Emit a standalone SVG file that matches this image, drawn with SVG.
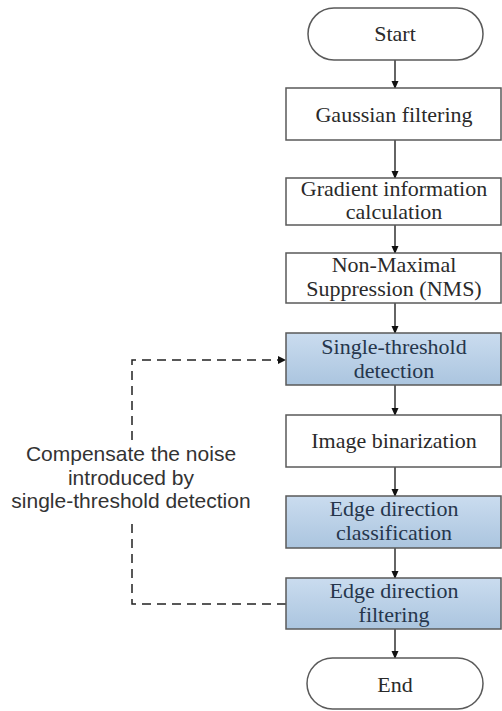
<svg xmlns="http://www.w3.org/2000/svg" width="502" height="711" viewBox="0 0 502 711">
<defs>
<linearGradient id="blue" x1="0" y1="0" x2="0" y2="1">
<stop offset="0" stop-color="#cadcef"/>
<stop offset="1" stop-color="#abc5df"/>
</linearGradient>
<marker id="arr" markerWidth="8" markerHeight="8" refX="7" refY="4" orient="auto" markerUnits="userSpaceOnUse">
<path d="M0,0.5 L8,4 L0,7.5 Z" fill="#111"/>
</marker>
</defs>
<style>
.box{fill:#fff;stroke:#5a5a5a;stroke-width:1.5}
.hl{fill:url(#blue);stroke:#5a5a5a;stroke-width:1.5}
.t{font-family:"Liberation Serif","Times New Roman",serif;font-size:22px;fill:#2a2a2a;text-anchor:middle}
.th{font-family:"Liberation Serif","Times New Roman",serif;font-size:22px;fill:#26364c;text-anchor:middle}
.ann{font-family:"Liberation Sans",Arial,sans-serif;font-size:21px;fill:#333;text-anchor:middle}
.c{stroke:#111;stroke-width:1.3;fill:none}
.d{stroke:#222;stroke-width:1.5;fill:none;stroke-dasharray:9 6}
</style>
<rect width="502" height="711" fill="#fff"/>
<g id="connectors">
<line class="c" x1="395" y1="60" x2="395" y2="88" marker-end="url(#arr)"/>
<line class="c" x1="395" y1="140" x2="395" y2="178" marker-end="url(#arr)"/>
<line class="c" x1="395" y1="225" x2="395" y2="253" marker-end="url(#arr)"/>
<line class="c" x1="395" y1="303" x2="395" y2="333" marker-end="url(#arr)"/>
<line class="c" x1="395" y1="385" x2="395" y2="415" marker-end="url(#arr)"/>
<line class="c" x1="395" y1="467" x2="395" y2="496" marker-end="url(#arr)"/>
<line class="c" x1="395" y1="548" x2="395" y2="578" marker-end="url(#arr)"/>
<line class="c" x1="395" y1="629" x2="395" y2="658" marker-end="url(#arr)"/>
<path class="d" d="M286,604 H132 V524"/>
<path class="d" d="M132,440 V360 H280"/>
<path d="M278,356 L286,360 L278,364 Z" fill="#111"/>
</g>
<g id="start">
<rect class="box" x="308" y="8" width="175" height="52" rx="26"/>
<text class="t" x="395" y="41">Start</text>
</g>
<g id="gaussian">
<rect class="box" x="286" y="88" width="215" height="52"/>
<text class="t" x="394" y="122">Gaussian filtering</text>
</g>
<g id="gradient">
<rect class="box" x="286" y="178" width="215" height="47"/>
<text class="t" x="394" y="196">Gradient information</text>
<text class="t" x="394" y="219">calculation</text>
</g>
<g id="nms">
<rect class="box" x="286" y="253" width="215" height="50"/>
<text class="t" x="394" y="272">Non-Maximal</text>
<text class="t" x="394" y="296">Suppression (NMS)</text>
</g>
<g id="single">
<rect class="hl" x="286" y="333" width="215" height="52"/>
<text class="th" x="394" y="354">Single-threshold</text>
<text class="th" x="394" y="378">detection</text>
</g>
<g id="binarization">
<rect class="box" x="286" y="415" width="215" height="52"/>
<text class="t" x="394" y="448">Image binarization</text>
</g>
<g id="classification">
<rect class="hl" x="286" y="496" width="215" height="52"/>
<text class="th" x="394" y="516">Edge direction</text>
<text class="th" x="394" y="540">classification</text>
</g>
<g id="filtering">
<rect class="hl" x="286" y="578" width="215" height="51"/>
<text class="th" x="394" y="598">Edge direction</text>
<text class="th" x="394" y="622">filtering</text>
</g>
<g id="end">
<rect class="box" x="307" y="658" width="176" height="51" rx="25.5"/>
<text class="t" x="395" y="692">End</text>
</g>
<g id="annotation">
<text class="ann" x="131" y="461">Compensate the noise</text>
<text class="ann" x="131" y="484.5">introduced by</text>
<text class="ann" x="131" y="508">single-threshold detection</text>
</g>
</svg>
